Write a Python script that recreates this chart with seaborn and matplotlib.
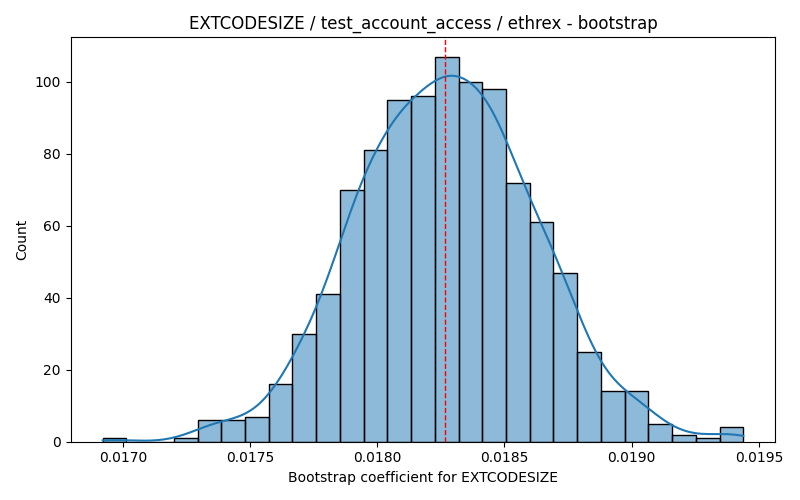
import numpy as np
import pandas as pd
import matplotlib
matplotlib.use("Agg")
import matplotlib.pyplot as plt
import seaborn as sns

# Histogram: 27 equal bins between data min and max
data_min = 0.016921
data_max = 0.019439
n_bins = 27
counts = [1, 0, 0, 1, 6, 6, 7, 16, 30, 41, 70, 81, 95, 96, 107, 100, 98,
          72, 61, 47, 25, 14, 14, 5, 2, 1, 4]
mean_line = 0.018265

title = "EXTCODESIZE / test_account_access / ethrex - bootstrap"
xlabel = "Bootstrap coefficient for EXTCODESIZE"
ylabel = "Count"

edges = np.linspace(data_min, data_max, n_bins + 1)
centers = (edges[:-1] + edges[1:]) / 2
values = np.repeat(centers, counts)
df = pd.DataFrame({"coef": values})

fig, ax = plt.subplots(figsize=(8, 5), dpi=100)
sns.histplot(data=df, x="coef", bins=edges, kde=True, edgecolor="black",
             kde_kws=dict(cut=2, clip=(data_min, data_max)), ax=ax)
ax.axvline(mean_line, color="red", linestyle="--", linewidth=1)
ax.set_title(title)
ax.set_xlabel(xlabel)
ax.set_ylabel(ylabel)
fig.tight_layout()
fig.savefig("out.png", dpi=100)
